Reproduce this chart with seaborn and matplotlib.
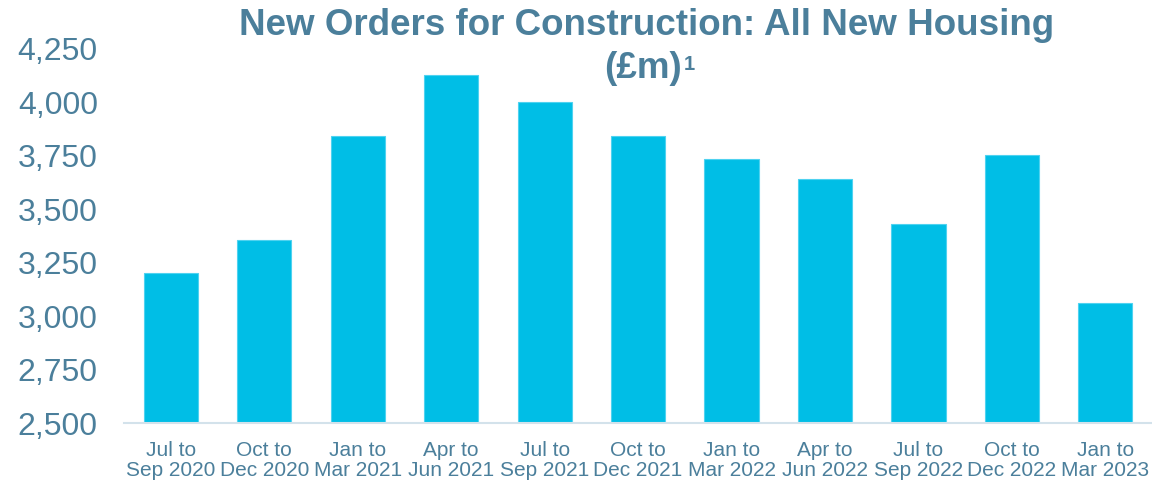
import matplotlib
matplotlib.use("Agg")
import matplotlib.pyplot as plt
import seaborn as sns
import pandas as pd

periods = ["Jul to\nSep 2020", "Oct to\nDec 2020", "Jan to\nMar 2021", "Apr to\nJun 2021",
           "Jul to\nSep 2021", "Oct to\nDec 2021", "Jan to\nMar 2022", "Apr to\nJun 2022",
           "Jul to\nSep 2022", "Oct to\nDec 2022", "Jan to\nMar 2023"]
orders = [3204, 3355, 3842, 4129, 4002, 3841, 3733, 3640, 3432, 3753, 3060]
y_ticks = [2500, 2750, 3000, 3250, 3500, 3750, 4000, 4250]
title_line1 = "New Orders for Construction: All New Housing"
title_line2 = "(£m)"
title_note = "1"

sns.set_theme(style="white")
plt.rcParams['font.family'] = ['Liberation Sans', 'DejaVu Sans']

TXT = "#4B7F9B"
BAR = "#00BEE6"

df = pd.DataFrame({"period": periods, "orders": orders})

fig = plt.figure(figsize=(11.52, 4.84), dpi=100)
ax = fig.add_axes([0.1078, 0.126, 0.8922, 0.773])
sns.barplot(data=df, x="period", y="orders", color=BAR, saturation=1, width=0.58,
            edgecolor="#4FD2F0", linewidth=0.8, ax=ax)

ax.set_ylim(2500, 4250)
ax.set_yticks(y_ticks)
ax.set_yticklabels([f"{v:,}" for v in y_ticks])
ax.set_xlim(-0.5, len(periods) - 0.5)
ax.set_xlabel("")
ax.set_ylabel("")
for s in ["top", "right", "left"]:
    ax.spines[s].set_visible(False)
ax.spines["bottom"].set_color("#D3E2EB")
ax.spines["bottom"].set_linewidth(1.5)
ax.tick_params(axis="y", length=0, pad=19, labelsize=23, labelcolor=TXT)
ax.tick_params(axis="x", length=0, pad=13, labelsize=15, labelcolor=TXT)
for lab in ax.get_xticklabels():
    lab.set_linespacing(1.05)

fig.text(0.5615, 1 - 35 / 484, title_line1, ha="center", va="baseline",
         fontsize=26.5, fontweight="bold", color=TXT)
fig.text(682 / 1152, 1 - 78 / 484, title_line2, ha="right", va="baseline",
         fontsize=26.5, fontweight="bold", color=TXT)
fig.text(684 / 1152, 1 - 70 / 484, title_note, ha="left", va="baseline",
         fontsize=14.5, fontweight="bold", color=TXT)

fig.savefig("out.png", dpi=100)
